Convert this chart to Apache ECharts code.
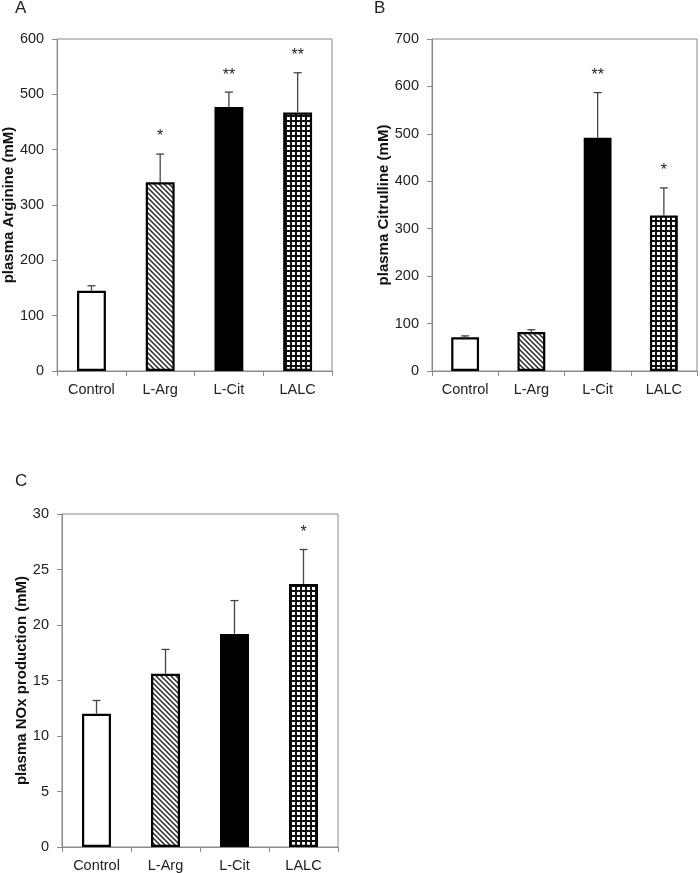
<!DOCTYPE html>
<html>
<head>
<meta charset="utf-8">
<script src="https://cdn.jsdelivr.net/npm/echarts@6/dist/echarts.min.js"></script>
<style>
html,body{margin:0;padding:0;background:#fff;}
#chart{width:700px;height:873px;}
</style>
</head>
<body>
<div id="chart"></div>
<script>
// ---- data ----
const categories = ['Control', 'L-Arg', 'L-Cit', 'LALC'];

const argMean = [145, 341, 477, 467];
const argErr  = [9, 51, 27, 72];
const argSig  = ['', '*', '**', '**'];

const citMean = [71, 82, 492, 328];
const citErr  = [3, 5, 95, 58];
const citSig  = ['', '', '**', '*'];

const noxMean = [12.0, 15.6, 19.2, 23.7];
const noxErr  = [1.2, 2.2, 3.0, 3.1];
const noxSig  = ['', '', '', '*'];

const yTicksA = [0, 100, 200, 300, 400, 500, 600];
const yTicksB = [0, 100, 200, 300, 400, 500, 600, 700];
const yTicksC = [0, 5, 10, 15, 20, 25, 30];

// ---- patterns ----
function hatchPattern() {
  const s = 5;
  const c = document.createElement('canvas');
  c.width = s; c.height = s;
  const g = c.getContext('2d');
  g.fillStyle = '#fff'; g.fillRect(0, 0, s, s);
  g.strokeStyle = '#2a2a2a'; g.lineWidth = 1.5;
  g.beginPath();
  g.moveTo(-1, -1); g.lineTo(s + 1, s + 1);
  g.moveTo(-1, s - 1); g.lineTo(1, s + 1);
  g.moveTo(s - 1, -1); g.lineTo(s + 1, 1);
  g.stroke();
  return { image: c, repeat: 'repeat' };
}
function gridPattern() {
  const c = document.createElement('canvas');
  c.width = 5; c.height = 5;
  const g = c.getContext('2d');
  g.fillStyle = '#111'; g.fillRect(0, 0, 5, 5);
  g.fillStyle = '#fff'; g.fillRect(2, 2, 3, 3);
  return { image: c, repeat: 'repeat' };
}
const fills = ['#ffffff', hatchPattern(), '#000000', gridPattern()];

const FONT = 'Liberation Sans, Arial, sans-serif';
const AXIS_GRAY = '#8a8a8a';

const grids = [
  { left: 57, top: 39, width: 275, height: 332 },
  { left: 432, top: 39, width: 265, height: 332 },
  { left: 62, top: 514, width: 276, height: 333 }
];
const panels = [
  { mean: argMean, err: argErr, sig: argSig, max: 600, interval: 100, name: 'plasma Arginine (mM)', gap: 40 },
  { mean: citMean, err: citErr, sig: citSig, max: 700, interval: 100, name: 'plasma Citrulline (mM)', gap: 41 },
  { mean: noxMean, err: noxErr, sig: noxSig, max: 30, interval: 5, name: 'plasma NOx production (mM)', gap: 32 }
];

const xAxis = [], yAxis = [], series = [];
panels.forEach((p, i) => {
  xAxis.push({
    type: 'category', gridIndex: i, data: categories,
    axisLine: { lineStyle: { color: AXIS_GRAY, width: 1 } },
    axisTick: { show: true, alignWithLabel: false, length: 5, inside: false, lineStyle: { color: AXIS_GRAY } },
    axisLabel: { color: '#222', fontSize: 14.5, fontFamily: FONT, margin: 11 },
    splitLine: { show: false }
  });
  yAxis.push({
    type: 'value', gridIndex: i, min: 0, max: p.max, interval: p.interval,
    name: p.name, nameLocation: 'middle', nameRotate: 90, nameGap: p.gap,
    nameTextStyle: { color: '#111', fontSize: 15, fontWeight: 'bold', fontFamily: FONT },
    axisLine: { show: true, lineStyle: { color: AXIS_GRAY, width: 1 } },
    axisTick: { show: true, length: 5, lineStyle: { color: AXIS_GRAY } },
    axisLabel: { color: '#222', fontSize: 14.5, fontFamily: FONT, margin: 13 },
    splitLine: { show: false }
  });
  series.push({
    type: 'bar', xAxisIndex: i, yAxisIndex: i, barWidth: '42%',
    data: p.mean.map((v, k) => ({ value: v, itemStyle: { color: fills[k] } })),
    itemStyle: { borderColor: '#000', borderWidth: 2.2 },
    emphasis: { disabled: true }, silent: true, z: 2
  });
  series.push({
    type: 'custom', xAxisIndex: i, yAxisIndex: i, silent: true, z: 3,
    data: p.mean.map((v, k) => [k, v, p.err[k]]),
    renderItem: function (params, api) {
      const k = api.value(0);
      const base = api.coord([k, api.value(1)]);
      const top = api.coord([k, api.value(1) + api.value(2)]);
      const sig = p.sig[k];
      const children = [
        { type: 'line', shape: { x1: base[0], y1: base[1], x2: top[0], y2: top[1] }, style: { stroke: '#444', lineWidth: 1.3 } },
        { type: 'line', shape: { x1: top[0] - 4, y1: top[1], x2: top[0] + 4, y2: top[1] }, style: { stroke: '#444', lineWidth: 1.3 } }
      ];
      if (sig) {
        children.push({ type: 'text', x: top[0], y: top[1] - 17, style: { text: sig, fill: '#222', font: '16px ' + FONT, textAlign: 'center', textVerticalAlign: 'middle' } });
      }
      return { type: 'group', children: children };
    }
  });
});

const chart = echarts.init(document.getElementById('chart'), null, { renderer: 'canvas' });
chart.setOption({
  animation: false,
  backgroundColor: '#fff',
  title: [
    { text: 'A', left: 15, top: 0, padding: 0, textStyle: { fontSize: 17, fontWeight: 'normal', color: '#222', fontFamily: FONT } },
    { text: 'B', left: 374, top: 0, padding: 0, textStyle: { fontSize: 17, fontWeight: 'normal', color: '#222', fontFamily: FONT } },
    { text: 'C', left: 15, top: 473, padding: 0, textStyle: { fontSize: 17, fontWeight: 'normal', color: '#222', fontFamily: FONT } }
  ],
  grid: grids.map(g => Object.assign({ show: true, borderColor: AXIS_GRAY, borderWidth: 1, backgroundColor: 'transparent' }, g)),
  xAxis: xAxis,
  yAxis: yAxis,
  series: series
});
</script>
</body>
</html>
